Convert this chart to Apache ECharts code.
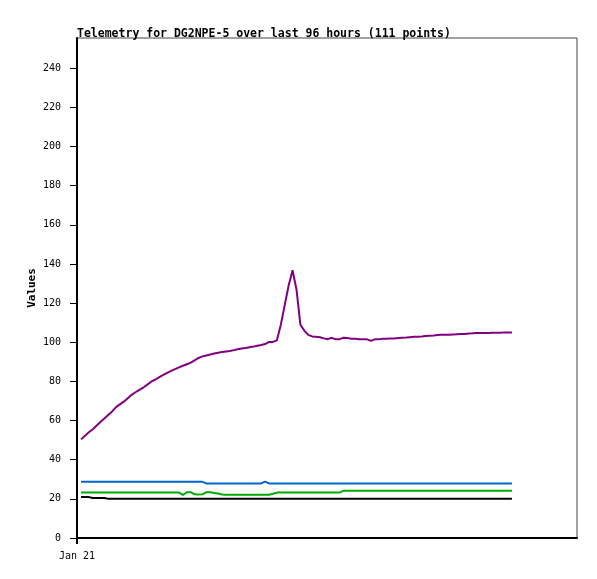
<!DOCTYPE html>
<html><head><meta charset="utf-8">
<script src="https://cdn.jsdelivr.net/npm/echarts@6/dist/echarts.min.js"></script>
<style>html,body{margin:0;padding:0;background:#fff}#c{width:597px;height:579px}</style>
</head><body><div id="c"></div>
<script>
// 111 points over 96 hours, hours since Jan 21 00:00
const startHour = 0.9;
const stepHours = 96 / 110;
const xTickLabels = ['Jan 21'];
const yTicks = [0,20,40,60,80,100,120,140,160,180,200,220,240];

const purple = [50.4,52.3,54.0,55.6,57.5,59.4,61.2,63.0,64.8,67.0,
 68.4,69.8,71.5,73.3,74.6,75.8,77.0,78.5,80.0,81.0,
 82.2,83.3,84.4,85.4,86.3,87.2,88.0,88.8,89.6,90.8,
 92.0,92.8,93.3,93.8,94.3,94.7,95.0,95.3,95.6,96.0,
 96.4,96.8,97.1,97.5,97.8,98.2,98.6,99.1,100.2,100.2,
 101.0,109.0,119.0,129.0,136.8,127.0,109.0,106.0,103.8,103.0,
 102.8,102.6,102.0,101.6,102.3,101.5,101.6,102.3,102.2,101.8,
 101.8,101.6,101.5,101.5,100.7,101.5,101.5,101.8,101.8,101.9,
 102.0,102.2,102.3,102.4,102.6,102.8,102.9,103.0,103.2,103.4,
 103.5,103.7,103.8,103.8,103.9,104.0,104.1,104.2,104.3,104.5,
 104.6,104.8,104.8,104.8,104.8,104.9,104.9,104.9,105.0,105.0,105.0];
const blue = [28.8,28.8,28.8,28.8,28.8,28.8,28.8,28.8,28.8,28.8,
 28.8,28.8,28.8,28.8,28.8,28.8,28.8,28.8,28.8,28.8,
 28.8,28.8,28.8,28.8,28.8,28.8,28.8,28.8,28.8,28.8,
 28.8,28.7,27.9,27.9,27.9,27.9,27.9,27.9,27.9,27.9,
 27.9,27.9,27.9,27.9,27.9,27.9,27.9,28.8,27.9,27.9,
 27.9,27.9,27.9,27.9,27.9,27.9,27.9,27.9,27.9,27.9,
 27.9,27.9,27.9,27.9,27.9,27.9,27.9,27.9,27.9,27.9,
 27.9,27.9,27.9,27.9,27.9,27.9,27.9,27.9,27.9,27.9,
 27.9,27.9,27.9,27.9,27.9,27.9,27.9,27.9,27.9,27.9,
 27.9,27.9,27.9,27.9,27.9,27.9,27.9,27.9,27.9,27.9,
 27.9,27.9,27.9,27.9,27.9,27.9,27.9,27.9,27.9,27.9,27.9];
const green = [23.2,23.2,23.2,23.2,23.2,23.2,23.2,23.2,23.2,23.2,
 23.2,23.2,23.2,23.2,23.2,23.2,23.2,23.2,23.2,23.2,
 23.2,23.2,23.2,23.2,23.2,23.2,22.0,23.4,23.4,22.3,
 22.2,22.3,23.4,23.4,23.0,22.7,22.2,22.1,22.1,22.1,
 22.1,22.1,22.1,22.1,22.1,22.1,22.1,22.1,22.1,22.6,
 23.2,23.2,23.2,23.2,23.2,23.2,23.2,23.2,23.2,23.2,
 23.2,23.2,23.2,23.2,23.2,23.2,23.2,24.2,24.2,24.2,
 24.2,24.2,24.2,24.2,24.2,24.2,24.2,24.2,24.2,24.2,
 24.2,24.2,24.2,24.2,24.2,24.2,24.2,24.2,24.2,24.2,
 24.2,24.2,24.2,24.2,24.2,24.2,24.2,24.2,24.2,24.2,
 24.2,24.2,24.2,24.2,24.2,24.2,24.2,24.2,24.2,24.2,24.2];
const black = [20.9,20.9,20.9,20.4,20.4,20.4,20.4,20.0,20.0,20.0,
 20.0,20.0,20.0,20.0,20.0,20.0,20.0,20.0,20.0,20.0,
 20.0,20.0,20.0,20.0,20.0,20.0,20.0,20.0,20.0,20.0,
 20.0,20.0,20.0,20.0,20.0,20.0,20.0,20.0,20.0,20.0,
 20.0,20.0,20.0,20.0,20.0,20.0,20.0,20.0,20.0,20.0,
 20.0,20.0,20.0,20.0,20.0,20.0,20.0,20.0,20.0,20.0,
 20.0,20.0,20.0,20.0,20.0,20.0,20.0,20.0,20.0,20.0,
 20.0,20.0,20.0,20.0,20.0,20.0,20.0,20.0,20.0,20.0,
 20.0,20.0,20.0,20.0,20.0,20.0,20.0,20.0,20.0,20.0,
 20.0,20.0,20.0,20.0,20.0,20.0,20.0,20.0,20.0,20.0,
 20.0,20.0,20.0,20.0,20.0,20.0,20.0,20.0,20.0,20.0,20.0];

const times = purple.map((_, i) => startHour + i * stepHours);
const pair = arr => arr.map((v, i) => [times[i], v]);

const chart = echarts.init(document.getElementById('c'), null, {renderer: 'canvas'});
const mono = '"DejaVu Sans Mono", monospace';
function line(name, arr, color, z) {
  return {name, type: 'line', data: pair(arr), showSymbol: false, symbol: 'none',
    lineStyle: {color, width: 2}, itemStyle: {color}, z, animation: false};
}
chart.setOption({
  animation: false,
  title: {text: 'Telemetry for DG2NPE-5 over last 96 hours (111 points)', left: 72, top: 23,
    textStyle: {fontFamily: mono, fontWeight: 'bold', fontSize: 11.5, color: '#000'}},
  grid: {left: 77, top: 38, width: 500, height: 500, show: true, borderColor: '#444', borderWidth: 1, backgroundColor: '#fff'},
  xAxis: {type: 'value', min: 0, max: 111.4,
    axisLine: {show: true, lineStyle: {color: '#000', width: 2}},
    axisTick: {show: true, length: 6, customValues: [0], lineStyle: {color: '#000', width: 2}},
    axisLabel: {customValues: [0], formatter: () => xTickLabels[0], fontFamily: mono, fontSize: 10, color: '#000', margin: 13},
    splitLine: {show: false}},
  yAxis: {type: 'value', min: 0, max: 255.5, name: 'Values', nameLocation: 'middle', nameGap: 39,
    nameMoveOverlap: false,
    nameTextStyle: {fontFamily: mono, fontWeight: 'bold', fontSize: 11, color: '#000'},
    axisLine: {show: true, lineStyle: {color: '#000', width: 2}},
    axisTick: {show: true, length: 7, customValues: yTicks, lineStyle: {color: '#000', width: 1}},
    axisLabel: {customValues: yTicks, fontFamily: mono, fontSize: 10, color: '#000', margin: 16},
    splitLine: {show: false}},
  series: [
    line('black', black, '#000000', 2),
    line('green', green, '#00aa00', 3),
    line('blue', blue, '#0066cc', 4),
    line('purple', purple, '#800080', 5)
  ]
});
</script></body></html>
